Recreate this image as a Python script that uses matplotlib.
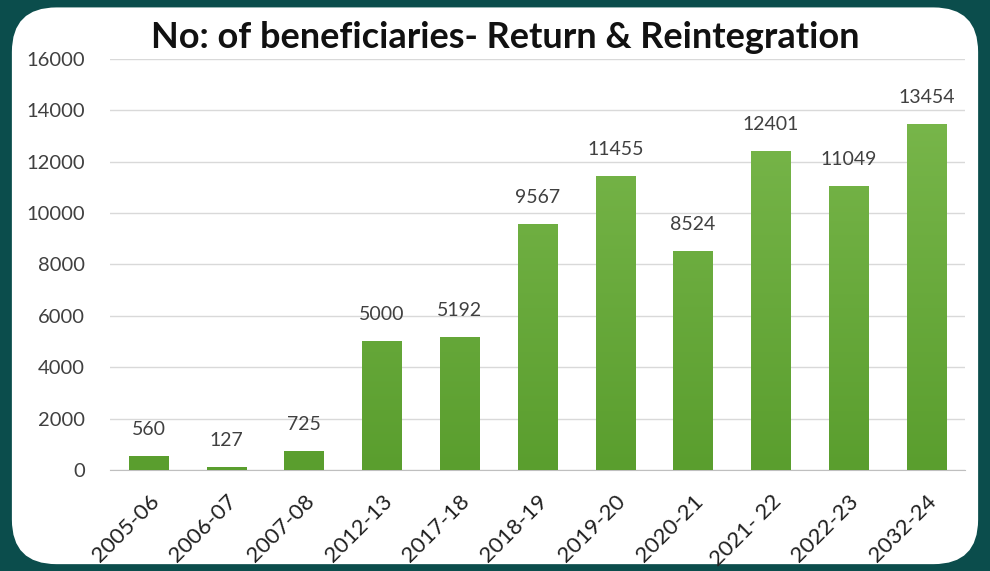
import numpy as np
from matplotlib import pyplot as plt
from matplotlib.patches import FancyBboxPatch
from matplotlib.colors import LinearSegmentedColormap

# Data
years = ['2005-06', '2006-07', '2007-08', '2012-13', '2017-18', '2018-19',
         '2019-20', '2020-21', '2021- 22', '2022-23', '2032-24']
beneficiaries = [560, 127, 725, 5000, 5192, 9567, 11455, 8524, 12401, 11049, 13454]
yticks = [0, 2000, 4000, 6000, 8000, 10000, 12000, 14000, 16000]

plt.rcParams['font.family'] = ['Lato', 'DejaVu Sans']

fig = plt.figure(figsize=(9.9, 5.71), dpi=100)
fig.patch.set_facecolor('#0b4d4c')

# White rounded panel
panel = FancyBboxPatch((0.012, 0.012), 0.976, 0.975,
                       boxstyle='round,pad=0,rounding_size=0.045',
                       transform=fig.transFigure, facecolor='white',
                       edgecolor='none', zorder=-5, mutation_aspect=990/571)
fig.patches.append(panel)

ax = fig.add_axes([0.111, 0.177, 0.864, 0.72])
ax.set_zorder(2)
ax.set_facecolor('none')

x = np.arange(len(years))
bars = ax.bar(x, beneficiaries, width=0.51, color='#6aaa3a', zorder=2)

# Vertical gradient in each bar
cmap = LinearSegmentedColormap.from_list('g', ['#5a9e2e', '#7dba4f'])
grad = np.linspace(0, 1, 256).reshape(-1, 1)
for b in bars:
    im = ax.imshow(grad, cmap=cmap, aspect='auto', origin='lower',
                   extent=[b.get_x(), b.get_x() + b.get_width(), 0, 16000],
                   zorder=3)
    im.set_clip_path(b)

for xi, v in zip(x, beneficiaries):
    ax.text(xi, v + 700, str(v), ha='center', va='bottom',
            fontsize=14, color='#404040')

ax.set_xlim(-0.5, len(years) - 0.5)
ax.set_ylim(0, 16000)
ax.set_yticks(yticks)
ax.set_yticklabels([str(t) for t in yticks], fontsize=14.5, color='#404040')
ax.set_xticks(x)
ax.set_xticklabels(years, rotation=45, ha='right', rotation_mode='anchor',
                   fontsize=16, color='#202020')
ax.tick_params(axis='y', length=0, pad=18)
ax.tick_params(axis='x', length=0, pad=15)
ax.grid(axis='y', color='#d9d9d9', linewidth=1, zorder=0)
ax.set_axisbelow(True)
for s in ['top', 'right', 'left']:
    ax.spines[s].set_visible(False)
ax.spines['bottom'].set_color('#bfbfbf')

fig.text(0.51, 0.935, 'No: of beneficiaries- Return & Reintegration',
         ha='center', va='center', fontsize=26, fontweight='bold', color='#111111')

plt.savefig('out.png', dpi=100, facecolor=fig.get_facecolor())
